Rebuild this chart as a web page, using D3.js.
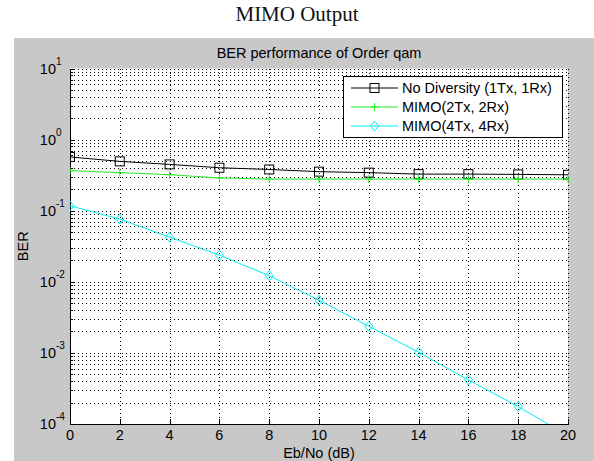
<!DOCTYPE html>
<html><head><meta charset="utf-8">
<script src="https://cdn.jsdelivr.net/npm/d3@7"></script>
<style>body{margin:0;background:#fff}svg{display:block}text{font-family:"Liberation Sans",Arial,sans-serif}</style>
</head><body>
<svg id="c" width="594" height="461"></svg>
<script>
const ebno = [0,2,4,6,8,10,12,14,16,18,20];
const noDiversity = [0.57,0.494,0.448,0.402,0.38,0.354,0.343,0.327,0.327,0.324,0.32];
const mimo2x2 = [0.366,0.343,0.321,0.289,0.278,0.279,0.279,0.279,0.279,0.279,0.279];
const mimo4x4 = [0.117,0.0762,0.0425,0.0237,0.0122,0.0055,0.00237,0.00102,0.000417,0.000176,0.000068];
const xTicks = [0,2,4,6,8,10,12,14,16,18,20];
const yTickExps = [1,0,-1,-2,-3,-4];
const seriesNames = ["No Diversity (1Tx, 1Rx)","MIMO(2Tx, 2Rx)","MIMO(4Tx, 4Rx)"];
const seriesColors = ["#000000","#22ee22","#00eeee"];
const seriesMarkers = ["square","plus","diamond"];

const svg = d3.select("#c");
const L=70,R=568,T=68.5,B=424;
const FS="14.5px";
const x = d3.scaleLinear().domain([0,20]).range([L,R]);
const y = d3.scaleLog().domain([1e-4,10]).range([B,T]);

svg.append("rect").attr("x",14).attr("y",38).attr("width",580).attr("height",423).attr("fill","#c8c8c8");
svg.append("text").attr("x",297).attr("y",21).attr("text-anchor","middle")
  .style("font-family",'"Liberation Serif","Times New Roman",serif').style("font-size","21px").attr("fill","#111").text("MIMO Output");
svg.append("rect").attr("x",L).attr("y",T).attr("width",R-L).attr("height",B-T).attr("fill","#fff");

svg.append("defs").append("clipPath").attr("id","clip").append("rect")
  .attr("x",L).attr("y",T).attr("width",R-L+1).attr("height",B-T);

const grid = svg.append("g").attr("stroke","#000").attr("stroke-width",1).attr("stroke-dasharray","1,3").attr("shape-rendering","crispEdges");
const yGridVals = [];
for (let e=-4;e<=0;e++) for (let m=1;m<=9;m++) yGridVals.push(m*Math.pow(10,e));
yGridVals.push(10);
yGridVals.forEach(v=>{
  if (v<=1e-4*1.0001) return;
  const yy=Math.round(y(v))+0.5;
  grid.append("line").attr("x1",L).attr("x2",R).attr("y1",yy).attr("y2",yy);
});
xTicks.forEach(t=>{ if(t===0) return;
  const xx=Math.round(x(t))+0.5;
  grid.append("line").attr("x1",xx).attr("x2",xx).attr("y1",T).attr("y2",B);
});

const ax = svg.append("g").attr("stroke","#000").attr("stroke-width",1).attr("shape-rendering","crispEdges");
ax.append("line").attr("x1",L+0.5).attr("x2",L+0.5).attr("y1",T).attr("y2",B+0.5);
ax.append("line").attr("x1",L).attr("x2",R+1).attr("y1",B+0.5).attr("y2",B+0.5);
xTicks.forEach(t=>{const xx=Math.round(x(t))+0.5; ax.append("line").attr("x1",xx).attr("x2",xx).attr("y1",B).attr("y2",B-5);});
yGridVals.forEach(v=>{
  const yy=Math.round(y(v))+0.5;
  const major = Math.abs(Math.log10(v)-Math.round(Math.log10(v)))<1e-9;
  ax.append("line").attr("x1",L).attr("x2",L+(major?5:3)).attr("y1",yy).attr("y2",yy);
});

xTicks.forEach(t=>{
  svg.append("text").attr("x",x(t)).attr("y",440).attr("text-anchor","middle").style("font-size",FS).attr("fill","#000").text(t);
});
yTickExps.forEach(e=>{
  const yy=y(Math.pow(10,e));
  svg.append("text").attr("x",56).attr("y",yy+5).attr("text-anchor","end").style("font-size",FS).attr("fill","#000").text("10");
  svg.append("text").attr("x",56).attr("y",yy-4).style("font-size","10px").attr("fill","#000").text(e);
});
svg.append("text").attr("x",(L+R)/2).attr("y",58).attr("text-anchor","middle").style("font-size",FS).attr("fill","#000").text("BER performance of Order qam");
svg.append("text").attr("x",(L+R)/2).attr("y",458).attr("text-anchor","middle").style("font-size",FS).attr("fill","#000").text("Eb/No (dB)");
svg.append("text").attr("transform",`translate(28,${(T+B)/2}) rotate(-90)`).attr("text-anchor","middle").style("font-size",FS).attr("fill","#000").text("BER");

function drawMarker(g, type, cx, cy, color){
  if(type==="square") g.append("rect").attr("x",cx-4.5).attr("y",cy-4.5).attr("width",9).attr("height",9).attr("fill","none").attr("stroke",color).attr("stroke-width",1);
  else if(type==="plus"){ g.append("path").attr("d",`M${cx-4},${cy}H${cx+4}M${cx},${cy-4}V${cy+4}`).attr("stroke",color).attr("stroke-width",1).attr("fill","none"); }
  else if(type==="diamond") g.append("path").attr("d",`M${cx},${cy-5}L${cx+4},${cy}L${cx},${cy+5}L${cx-4},${cy}Z`).attr("fill","none").attr("stroke",color).attr("stroke-width",1);
}

const allSeries=[noDiversity,mimo2x2,mimo4x4];
const plot = svg.append("g").attr("clip-path","url(#clip)");
const line = d3.line().x((d,i)=>x(ebno[i])).y(d=>y(d));
allSeries.forEach((s,k)=>{
  plot.append("path").datum(s).attr("d",line).attr("fill","none").attr("stroke",seriesColors[k]).attr("stroke-width",1);
  s.forEach((v,i)=>drawMarker(plot,seriesMarkers[k],x(ebno[i]),y(v),seriesColors[k]));
});

const lg = svg.append("g");
lg.append("rect").attr("x",343.5).attr("y",76.5).attr("width",219).attr("height",61).attr("fill","#fff").attr("stroke","#000").attr("stroke-width",1);
const lgY=[88,107,126];
seriesNames.forEach((n,k)=>{
  lg.append("line").attr("x1",351).attr("x2",398).attr("y1",lgY[k]).attr("y2",lgY[k]).attr("stroke",seriesColors[k]).attr("stroke-width",1);
  drawMarker(lg,seriesMarkers[k],374.5,lgY[k],seriesColors[k]);
  lg.append("text").attr("x",402).attr("y",lgY[k]+5).style("font-size",FS).attr("fill","#000").text(n);
});
</script>
</body></html>
